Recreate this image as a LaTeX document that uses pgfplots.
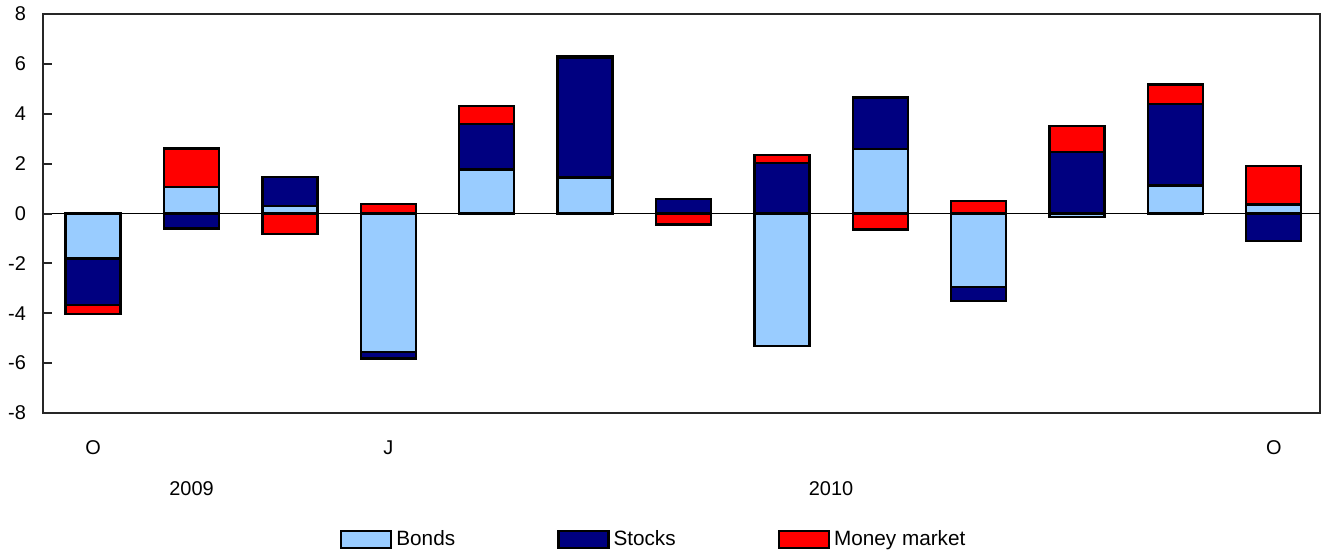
\documentclass[border=0pt]{standalone}
\usepackage{fontspec}
\setmainfont{Liberation Sans}
\usepackage{pgfplots}
\usepackage{pgfplotstable}
\pgfplotsset{compat=1.18}
\definecolor{bonds}{RGB}{153,204,255}
\definecolor{stocks}{RGB}{0,0,128}
\definecolor{mm}{RGB}{255,0,0}
\pgfplotstableread{
x bonds stocks mm
0 -1.80 -1.88 -0.36
1 1.07 -0.60 1.54
2 0.29 1.17 -0.83
3 -5.55 -0.26 0.37
4 1.76 1.82 0.73
5 1.44 4.81 0.05
6 0.02 0.57 -0.44
7 -5.31 2.03 0.31
8 2.58 2.07 -0.64
9 -2.94 -0.56 0.49
10 -0.13 2.47 1.03
11 1.13 3.25 0.80
12 0.36 -1.10 1.54
}\datatable
\begin{document}
\begin{tikzpicture}
\begin{axis}[name=ax, scale only axis, width=638.5bp, height=199.5bp,
  xmin=-0.51, xmax=12.47, ymin=-8, ymax=8,
  ybar stacked, stack negative=separate, bar width=27.5bp,
  clip=false,
  font=\fontsize{10}{12}\selectfont,
  axis line style={line width=1bp, black!85},
  ytick={-8,-6,...,8}, ytick pos=left,
  tick align=inside,
  major tick length=4.5bp,
  tick style={line width=1bp, black!85},
  /pgf/number format/assume math mode=true,
  yticklabel style={xshift=-5bp},
  xtick={0,3,12}, xticklabels={O,J,O},
  xtick style={draw=none},
  xticklabel style={anchor=center, yshift=-17.5bp},
  extra y ticks={0}, extra y tick labels={},
  extra y tick style={grid=major, major grid style={black, line width=0.7bp}},
  legend columns=3,
  legend style={at={(0.479,0)}, anchor=center, yshift=-63.25bp, draw=none, fill=none,
    font=\fontsize{10.4}{12}\selectfont,
    /tikz/every even column/.append style={column sep=49bp}},
  legend image code/.code={\draw[#1,line width=1.2bp] (0bp,-4.25bp) rectangle (25bp,4.25bp);},
  every axis plot/.append style={draw=black, line width=1.2bp},
]
\addplot[fill=bonds] table[x=x,y=bonds] {\datatable};
\addplot[fill=stocks] table[x=x,y=stocks] {\datatable};
\addplot[fill=mm] table[x=x,y=mm] {\datatable};
\legend{Bonds,Stocks,Money market}
\pgfplotsinvokeforeach{-6,-4,-2,0,2,4,6}{
  \draw[line width=1bp, black!85] (axis cs:-0.51,#1) -- (axis cs:-0.42,#1);
}
\node at (axis cs:1,-8) [yshift=-38bp] {2009};
\node at (axis cs:7.5,-8) [yshift=-38bp] {2010};
\end{axis}
\path (ax.south west) ++(-21.5bp,-72bp) coordinate (bl);
\path (ax.north east) ++(1bp,7bp) coordinate (tr);
\pgfresetboundingbox
\path[use as bounding box] (bl) rectangle (tr);
\end{tikzpicture}
\end{document}
